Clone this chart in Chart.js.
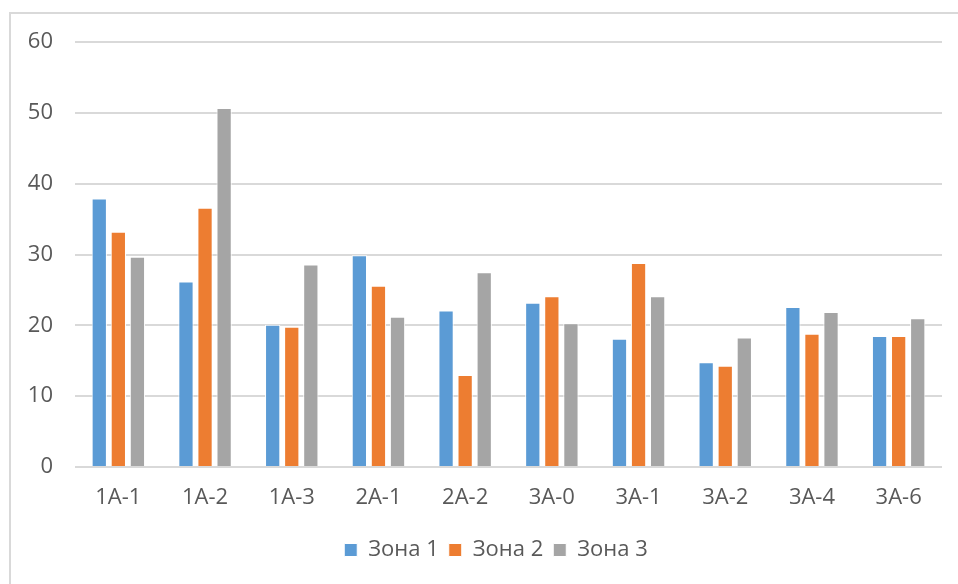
<!DOCTYPE html>
<html lang="ru">
<head>
    <meta charset="UTF-8">
    <title>Зоны</title>
    <script src="https://cdn.jsdelivr.net/npm/chart.js@4.4.0/dist/chart.umd.min.js"></script>
    <style>
        body {
            margin: 0;
            background: #fff;
            width: 958px;
            height: 584px;
            overflow: hidden;
            position: relative;
        }
        .frame {
            position: absolute;
            left: 9px;
            top: 12px;
            width: 1000px;
            height: 700px;
            border: 2px solid #d9d9d9;
        }
        .chart-wrapper {
            position: absolute;
            left: 0;
            top: 0;
            width: 958px;
            height: 584px;
        }
    </style>
</head>
<body>
    <div class="frame"></div>
    <div class="chart-wrapper">
        <canvas id="bar-chart"></canvas>
    </div>

    <script>
        // Данные
        const categories = ['1A-1', '1A-2', '1A-3', '2A-1', '2A-2', '3A-0', '3A-1', '3A-2', '3A-4', '3A-6'];
        const zone1 = [37.9, 26.2, 20.1, 29.9, 22.1, 23.2, 18.1, 14.8, 22.6, 18.5];
        const zone2 = [33.2, 36.6, 19.8, 25.6, 13.0, 24.1, 28.8, 14.3, 18.8, 18.5];
        const zone3 = [29.7, 50.7, 28.6, 21.2, 27.5, 20.3, 24.1, 18.3, 21.9, 21.0];
        const yTicks = [0, 10, 20, 30, 40, 50, 60];

        const font = { family: "'Open Sans', sans-serif", size: 22 };
        const textColor = '#595959';
        const gridColor = '#d9d9d9';

        function series(label, data, color) {
            return {
                label: label,
                data: data,
                backgroundColor: color,
                borderColor: '#ffffff',
                borderWidth: 1,
                categoryPercentage: 0.66,
                barPercentage: 0.8
            };
        }

        // сдвиг легенды вправо, как в оригинале
        const legendShift = {
            id: 'legendShift',
            afterLayout(chart) {
                chart.legend.left += 40;
            }
        };

        new Chart(document.getElementById('bar-chart'), {
            type: 'bar',
            data: {
                labels: categories,
                datasets: [
                    series('Зона 1', zone1, '#5b9bd5'),
                    series('Зона 2', zone2, '#ed7d31'),
                    series('Зона 3', zone3, '#a5a5a5')
                ]
            },
            plugins: [legendShift],
            options: {
                responsive: true,
                maintainAspectRatio: false,
                animation: false,
                layout: {
                    padding: { left: 10, right: 16, top: 42, bottom: 13 }
                },
                plugins: {
                    legend: {
                        position: 'bottom',
                        labels: {
                            font: font,
                            color: textColor,
                            boxWidth: 13,
                            boxHeight: 13,
                            padding: 10
                        }
                    },
                    tooltip: { enabled: false }
                },
                scales: {
                    x: {
                        grid: { display: false, drawTicks: false },
                        border: { display: false },
                        ticks: { font: font, color: textColor, padding: 18, maxRotation: 0 },
                        afterFit: function(scale) { scale.height = 62; }
                    },
                    y: {
                        min: yTicks[0],
                        max: yTicks[yTicks.length - 1],
                        grid: { color: gridColor, lineWidth: 2, drawTicks: false },
                        border: { display: false },
                        afterBuildTicks: function(scale) {
                            scale.ticks = yTicks.map(v => ({ value: v }));
                        },
                        ticks: { font: font, color: textColor, padding: 22 },
                        afterFit: function(scale) { scale.width = 65; }
                    }
                }
            }
        });
    </script>
</body>
</html>
